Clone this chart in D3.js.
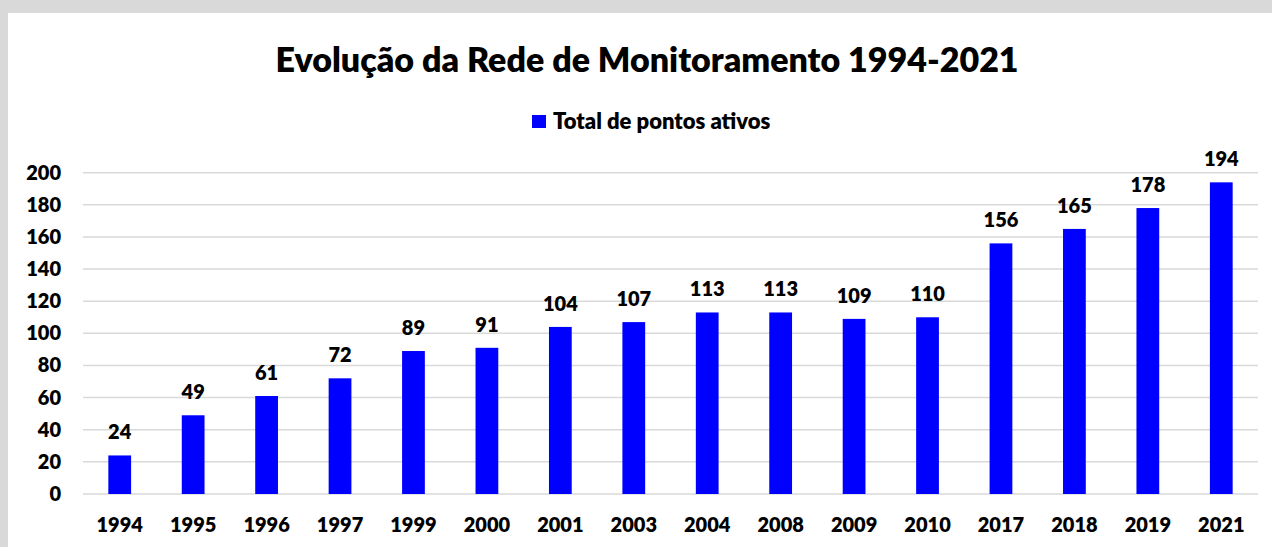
<!DOCTYPE html>
<html>
<head>
<meta charset="utf-8">
<script src="https://cdn.jsdelivr.net/npm/d3@7"></script>
<style>
  body { margin:0; background:#d9d9d9; }
  svg { display:block; }
  text { font-family: Lato, "Open Sans", sans-serif; font-weight:800; fill:#000; }
</style>
</head>
<body>
<svg id="chart" width="1272" height="547"></svg>
<script>
// data
const years = ["1994","1995","1996","1997","1999","2000","2001","2003","2004","2008","2009","2010","2017","2018","2019","2021"];
const pontos = [24,49,61,72,89,91,104,107,113,113,109,110,156,165,178,194];
const yTicks = [0,20,40,60,80,100,120,140,160,180,200];

const svg = d3.select("#chart");
const margin = {left:83, right:14, top:172.7, bottom:53};
const W = 1272, H = 547;

// white panel
svg.append("rect").attr("x",8).attr("y",13).attr("width",W-8).attr("height",H-13).attr("fill","#fff");

const x = d3.scaleBand().domain(years).range([margin.left, W-margin.right]).paddingInner(0.69).paddingOuter(0.345);
const y = d3.scaleLinear().domain([0,200]).range([494, margin.top]);

// gridlines
svg.append("g").selectAll("line").data(yTicks).enter().append("line")
  .attr("x1", margin.left).attr("x2", W-margin.right)
  .attr("y1", d => y(d)).attr("y2", d => y(d))
  .attr("stroke","#d9d9d9").attr("stroke-width",1.5);

// y axis labels
const yAxis = d3.axisLeft(y).tickValues(yTicks).tickSize(0).tickPadding(22);
const gy = svg.append("g").attr("transform","translate("+margin.left+",0)").call(yAxis);
gy.select(".domain").remove();
gy.selectAll("text").attr("font-size",20).style("font-family","Lato, sans-serif").style("font-weight","800").attr("fill","#000");

// x axis labels
const xAxis = d3.axisBottom(x).tickSize(0).tickPadding(24);
const gx = svg.append("g").attr("transform","translate(0,494)").call(xAxis);
gx.select(".domain").remove();
gx.selectAll("text").attr("font-size",20).style("font-family","Lato, sans-serif").style("font-weight","800").attr("fill","#000");

// bars
svg.append("g").selectAll("rect").data(years).enter().append("rect")
  .attr("x", d => x(d)).attr("width", x.bandwidth())
  .attr("y", (d,i) => y(pontos[i])).attr("height", (d,i) => y(0) - y(pontos[i]))
  .attr("fill","#0000ff");

// value labels
svg.append("g").selectAll("text").data(years).enter().append("text")
  .attr("x", d => x(d) + x.bandwidth()/2)
  .attr("y", (d,i) => y(pontos[i]) - 16)
  .attr("text-anchor","middle").attr("font-size",20)
  .text((d,i) => pontos[i]);

// title
svg.append("text").attr("x",647).attr("y",72).attr("text-anchor","middle")
  .attr("font-size",34).text("Evolução da Rede de Monitoramento 1994-2021");

// legend
svg.append("rect").attr("x",532).attr("y",115).attr("width",14).attr("height",13).attr("fill","#0000ff");
svg.append("text").attr("x",553).attr("y",129).attr("font-size",22).text("Total de pontos ativos");
</script>
</body>
</html>
